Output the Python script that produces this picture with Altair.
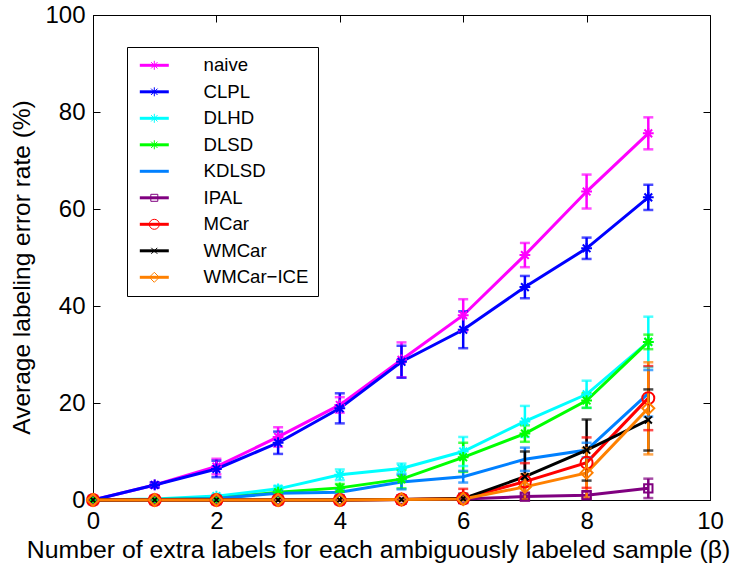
import altair as alt
import pandas as pd

methods = ["naive", "CLPL", "DLHD", "DLSD", "KDLSD", "IPAL", "MCar", "WMCar", "WMCar−ICE"]
colors = ["#ff00ff", "#0000ff", "#00ffff", "#00ff00", "#0080ff", "#800080", "#ff0000", "#000000", "#ff8000"]

ast = "M-0.9,0L0.9,0M0,-0.9L0,0.9M-0.64,-0.64L0.64,0.64M-0.64,0.64L0.64,-0.64"
xcross = "M-0.6,-0.6L0.6,0.6M-0.6,0.6L0.6,-0.6"
square = "M-0.7,-0.7L0.7,-0.7L0.7,0.7L-0.7,0.7Z"
shapes = [ast, ast, ast, ast, "M0,0", square, "circle", xcross, "diamond"]

beta = [0, 1, 2, 3, 4, 5, 6, 7, 8, 9]

naive = [0, 3.1, 6.9, 13.0, 19.6, 28.9, 38.1, 50.5, 63.6, 75.6]
naive_err = [0, 0.5, 1.6, 2.0, 1.6, 3.6, 3.3, 2.5, 3.5, 3.3]
clpl = [0, 3.1, 6.4, 11.8, 18.9, 28.5, 35.1, 43.9, 51.9, 62.4]
clpl_err = [0, 0.5, 1.7, 2.3, 3.1, 3.3, 3.8, 2.3, 2.2, 2.6]
dlhd = [0, 0.2, 0.8, 2.3, 5.2, 6.5, 10.0, 16.2, 21.8, 32.6]
dlhd_err = [0, 0.1, 0.3, 0.6, 1.1, 1.0, 3.0, 3.2, 2.8, 5.2]
dlsd = [0, 0.1, 0.3, 1.6, 2.5, 4.3, 8.8, 13.7, 20.5, 32.6]
dlsd_err = [0, 0.1, 0.2, 0.5, 0.8, 1.9, 3.0, 1.7, 1.5, 1.5]
kdlsd = [0, 0.1, 0.3, 1.4, 1.6, 3.7, 4.8, 8.4, 10.3, 22.0]
kdlsd_err = [0, 0.1, 0.2, 0.4, 0.6, 1.5, 1.2, 2.4, 1.5, 4.8]
ipal = [0, 0, 0, 0, 0, 0.1, 0.2, 0.7, 1.0, 2.4]
ipal_err = [0, 0, 0, 0, 0, 0.1, 0.3, 0.5, 0.7, 2.0]
mcar = [0, 0, 0, 0, 0, 0.1, 0.3, 3.8, 7.7, 21.0]
mcar_err = [0, 0, 0, 0, 0, 0.1, 2.0, 3.8, 5.2, 6.6]
wmcar = [0, 0, 0, 0, 0, 0.1, 0.3, 4.8, 10.3, 16.5]
wmcar_err = [0, 0, 0, 0, 0, 0.1, 1.0, 5.2, 6.3, 6.3]
wmcar_ice = [0, 0, 0, 0, 0, 0.1, 0.2, 2.7, 5.6, 18.9]
wmcar_ice_err = [0, 0, 0, 0, 0, 0.1, 0.5, 2.6, 5.1, 9.5]

series = [naive, clpl, dlhd, dlsd, kdlsd, ipal, mcar, wmcar, wmcar_ice]
errors = [naive_err, clpl_err, dlhd_err, dlsd_err, kdlsd_err, ipal_err, mcar_err, wmcar_err, wmcar_ice_err]

rows = []
for i, (m, vals, errs) in enumerate(zip(methods, series, errors)):
    for b, v, e in zip(beta, vals, errs):
        rows.append({"method": m, "k": i, "beta": b, "rate": v, "lo": max(v - e, 0), "hi": v + e})
df = pd.DataFrame(rows)

W, H = 617, 485
FONT = "Liberation Sans"

color_scale = alt.Scale(domain=methods, range=colors)
shape_scale = alt.Scale(domain=methods, range=shapes)
xs = alt.Scale(domain=[0, 10], nice=False)
ys = alt.Scale(domain=[0, 100], nice=False)
xticks = [0, 2, 4, 6, 8, 10]
yticks = [0, 20, 40, 60, 80, 100]

legend_common = dict(
    orient="none", legendX=34, legendY=32, title=None,
    labelFont=FONT, labelFontSize=18.6, labelColor="black",
    symbolSize=100, rowPadding=7.5, padding=9,
    symbolOffset=9, labelOffset=40,
)

base = alt.Chart(df)

lines = base.mark_line(strokeWidth=3).encode(
    x=alt.X("beta:Q", scale=xs, axis=alt.Axis(
        values=xticks, tickSize=0, labelFlush=False, labelOverlap=False,
        labelFont=FONT, labelFontSize=24, labelColor="black", labelPadding=9,
        title="Number of extra labels for each ambiguously labeled sample (β)",
        titleFont=FONT, titleFontSize=24.8, titleFontWeight="normal", titleColor="black",
        titlePadding=4, titleX=285, domainColor="black", grid=False)),
    y=alt.Y("rate:Q", scale=ys, axis=alt.Axis(
        values=yticks, tickSize=0, labelOverlap=False,
        labelFont=FONT, labelFontSize=24, labelColor="black", labelPadding=8,
        title="Average labeling error rate (%)",
        titleFont=FONT, titleFontSize=24.5, titleFontWeight="normal", titleColor="black",
        titlePadding=10, titleY=252, domainColor="black", grid=False)),
    color=alt.Color("method:N", scale=color_scale, legend=alt.Legend(
        symbolType="M-2.9,0L2.9,0", symbolStrokeWidth=3,
        strokeColor="black", **legend_common)),
    order="beta:Q",
)

rules = base.mark_rule(strokeWidth=2.5).encode(
    x=alt.X("beta:Q", scale=xs, axis=alt.Axis(
        orient="top", offset=-H, values=xticks, labels=False, domain=False,
        tickSize=7, tickColor="black", title=None, grid=False)),
    y=alt.Y("lo:Q", scale=ys, axis=alt.Axis(
        orient="right", offset=-W, values=yticks, labels=False, domain=False,
        tickSize=7, tickColor="black", title=None, grid=False)),
    y2="hi:Q",
    color=alt.Color("method:N", scale=color_scale, legend=None),
)

caps = base.transform_fold(["lo", "hi"], as_=["end", "val"]).mark_tick(
    orient="horizontal", size=10, thickness=2.5
).encode(
    x=alt.X("beta:Q", scale=xs, axis=alt.Axis(
        orient="bottom", offset=-H, values=xticks, labels=False, domain=False,
        tickSize=7, tickColor="black", title=None, grid=False)),
    y=alt.Y("val:Q", scale=ys, axis=alt.Axis(
        orient="left", offset=-W, values=yticks, labels=False, domain=False,
        tickSize=7, tickColor="black", title=None, grid=False)),
    color=alt.Color("method:N", scale=color_scale, legend=None),
)

points = base.mark_point(filled=False, size=144, strokeWidth=2, opacity=1).encode(
    x=alt.X("beta:Q", scale=xs, axis=None),
    y=alt.Y("rate:Q", scale=ys, axis=None),
    color=alt.Color("method:N", scale=color_scale, legend=alt.Legend(
        symbolStrokeWidth=1, labelOpacity=0, **legend_common)),
    shape=alt.Shape("method:N", scale=shape_scale, legend=alt.Legend(
        symbolStrokeWidth=1, labelOpacity=0, **legend_common)),
)

chart = alt.layer(lines, rules, caps, points).resolve_scale(
    color="independent", shape="independent"
).resolve_axis(
    x="independent", y="independent"
).resolve_legend(
    color="independent", shape="independent"
).properties(
    width=W, height=H,
    autosize=alt.AutoSizeParams(type="none"),
    padding={"left": 93, "top": 15, "right": 43, "bottom": 64},
    background="white",
).configure_view(stroke="black", strokeWidth=1)

chart.save("out.html", embed_options={"renderer": "svg", "actions": False})
